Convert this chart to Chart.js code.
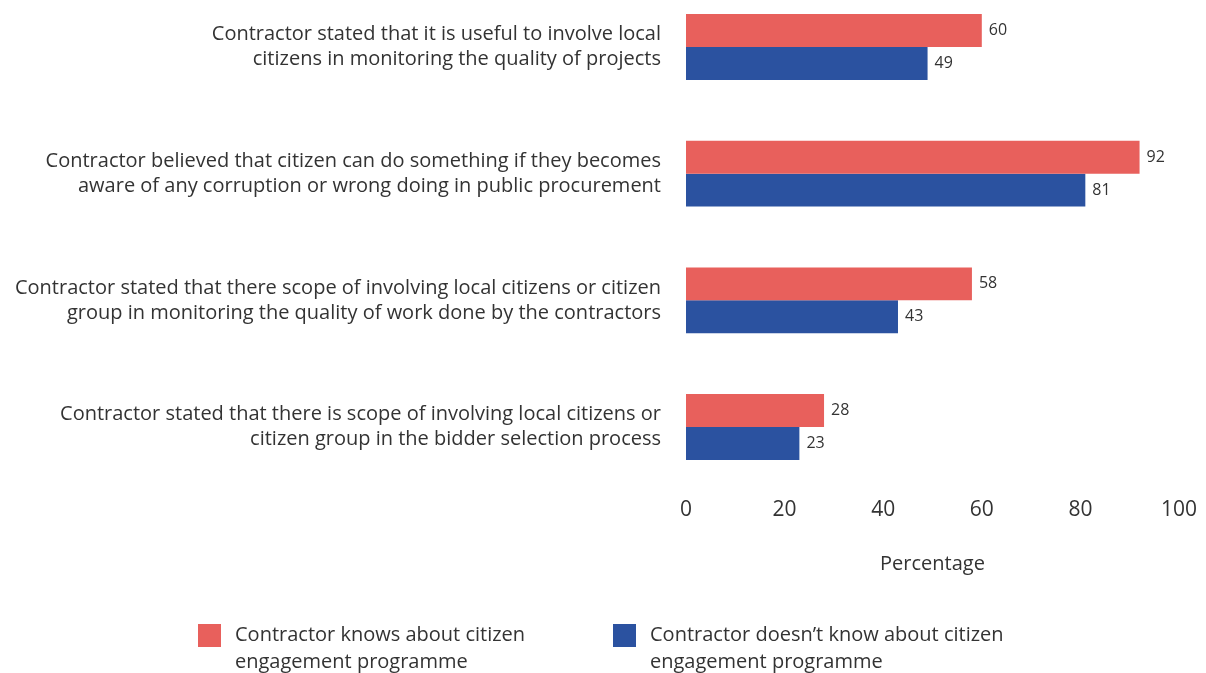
<!DOCTYPE html>
<html>
<head>
<meta charset="utf-8">
<script src="https://cdn.jsdelivr.net/npm/chart.js@4"></script>
<style>
  html, body { margin: 0; padding: 0; background: #fff; }
  #wrap { position: relative; width: 1206px; height: 673px; }
  #legend { position: absolute; top: 620px; left: 0; width: 1206px; font-family: "Open Sans", sans-serif; font-size: 20px; color: #333; line-height: 27px; }
  .item { position: absolute; top: 0; }
  .box { position: absolute; left: 0; top: 4px; width: 23px; height: 23px; }
  .txt { position: absolute; left: 37px; top: 0; white-space: nowrap; }
</style>
</head>
<body>
<div id="wrap">
  <canvas id="chart" width="1206" height="673"></canvas>
  <div id="legend"></div>
</div>
<script>
const categories = [
  ['Contractor stated that it is useful to involve local', 'citizens in monitoring the quality of projects'],
  ['Contractor believed that citizen can do something if they becomes', 'aware of any corruption or wrong doing in public procurement'],
  ['Contractor stated that there scope of involving local citizens or citizen', 'group in monitoring the quality of work done by the contractors'],
  ['Contractor stated that there is scope of involving local citizens or', 'citizen group in the bidder selection process']
];
const knows = [60, 92, 58, 28];
const doesntKnow = [49, 81, 43, 23];
const seriesLabels = [
  ['Contractor knows about citizen', 'engagement programme'],
  ['Contractor doesn\u2019t know about citizen', 'engagement programme']
];
const colors = ['#E8605C', '#2B52A0'];
const xTicks = [0, 20, 40, 60, 80, 100];

const FONT = '"Open Sans", sans-serif';
const TEXT = '#333333';

const valueLabels = {
  id: 'valueLabels',
  afterDatasetsDraw(chart) {
    const ctx = chart.ctx;
    ctx.save();
    ctx.font = '16px ' + FONT;
    ctx.fillStyle = TEXT;
    ctx.textBaseline = 'middle';
    ctx.textAlign = 'left';
    chart.data.datasets.forEach((ds, i) => {
      chart.getDatasetMeta(i).data.forEach((bar, j) => {
        ctx.fillText(ds.data[j], bar.x + 7, bar.y);
      });
    });
    ctx.restore();
  }
};

new Chart(document.getElementById('chart').getContext('2d'), {
  type: 'bar',
  data: {
    labels: categories,
    datasets: [
      { label: seriesLabels[0].join(' '), data: knows, backgroundColor: colors[0] },
      { label: seriesLabels[1].join(' '), data: doesntKnow, backgroundColor: colors[1] }
    ]
  },
  options: {
    indexAxis: 'y',
    responsive: false,
    animation: false,
    clip: false,
    categoryPercentage: 0.52,
    barPercentage: 1,
    layout: { padding: { top: 47, right: 27, bottom: 93, left: 0 } },
    scales: {
      x: {
        min: 0, max: 100,
        afterBuildTicks(scale) { scale.ticks = xTicks.map(v => ({ value: v })); },
        afterFit(scale) {
          scale.height = 673 - 93 - 427;
          scale.paddingLeft = 0;
          scale.paddingRight = 0;
        },
        grid: { display: false, drawTicks: false },
        border: { display: false },
        ticks: { color: TEXT, font: { family: FONT, size: 21 }, padding: 70, maxRotation: 0 },
        title: { display: true, text: 'Percentage', color: TEXT, font: { family: FONT, size: 20 }, padding: { top: 22, bottom: 4 } }
      },
      y: {
        offset: false,
        afterFit(scale) {
          scale.width = 686;
          scale.paddingTop = 0;
          scale.paddingBottom = 0;
        },
        grid: { display: false, drawTicks: false },
        border: { display: false },
        ticks: { color: TEXT, font: { family: FONT, size: 20, lineHeight: 1.25 }, padding: 25 }
      }
    },
    plugins: {
      legend: { display: false },
      tooltip: { enabled: false }
    }
  },
  plugins: [valueLabels]
});

const legend = document.getElementById('legend');
const lefts = [198, 613];
seriesLabels.forEach((lines, i) => {
  const item = document.createElement('div');
  item.className = 'item';
  item.style.left = lefts[i] + 'px';
  item.innerHTML = '<div class="box" style="background:' + colors[i] + '"></div><div class="txt">' + lines.join('<br>') + '</div>';
  legend.appendChild(item);
});
</script>
</body>
</html>
